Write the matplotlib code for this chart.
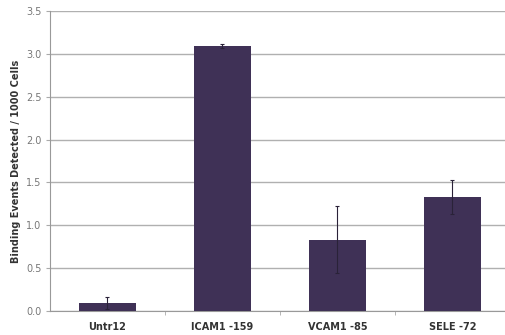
import numpy as np
import matplotlib
matplotlib.use("Agg")
import matplotlib.pyplot as plt

categories = ["Untr12", "ICAM1 -159", "VCAM1 -85", "SELE -72"]
values = [0.09, 3.09, 0.83, 1.33]
errors = [0.07, 0.02, 0.39, 0.20]

fig = plt.figure(figsize=(5.06, 3.35), dpi=100)
ax = fig.add_axes([50 / 506, 24 / 335, 460 / 506, 300 / 335])

x = np.arange(len(categories))
ax.bar(x, values, width=0.5, color="#3f3156", zorder=3)
ax.errorbar(x, values, yerr=errors, fmt="none", ecolor="#2a2238",
            elinewidth=0.8, capsize=1.5, capthick=0.8, zorder=4)

ax.set_xlim(-0.5, 3.5)
ax.set_ylim(0, 3.5)
ax.set_yticks(np.arange(0, 3.51, 0.5))
ax.set_yticklabels([f"{v:.1f}" for v in np.arange(0, 3.51, 0.5)])
ax.set_xticks(x)
ax.set_xticklabels(categories, fontweight="bold", fontsize=7, color="#333333")
ax.set_xticks(np.arange(0.5, 3.5, 1), minor=True)
ax.tick_params(axis="x", which="major", length=0, pad=8)
ax.tick_params(axis="x", which="minor", length=3, color="#aaaaaa")
ax.tick_params(axis="y", length=3, color="#aaaaaa", labelsize=7,
               labelcolor="#777777", pad=3)

ax.yaxis.grid(True, color="#b0b0b0", linewidth=1.0, zorder=0)
ax.set_axisbelow(True)
for s in ["top", "right"]:
    ax.spines[s].set_visible(False)
ax.spines["left"].set_color("#999999")
ax.spines["bottom"].set_color("#999999")

ax.set_ylabel("Binding Events Detected / 1000 Cells", fontweight="bold",
              fontsize=7, color="#333333", labelpad=4)

fig.savefig("out.png", dpi=100)
